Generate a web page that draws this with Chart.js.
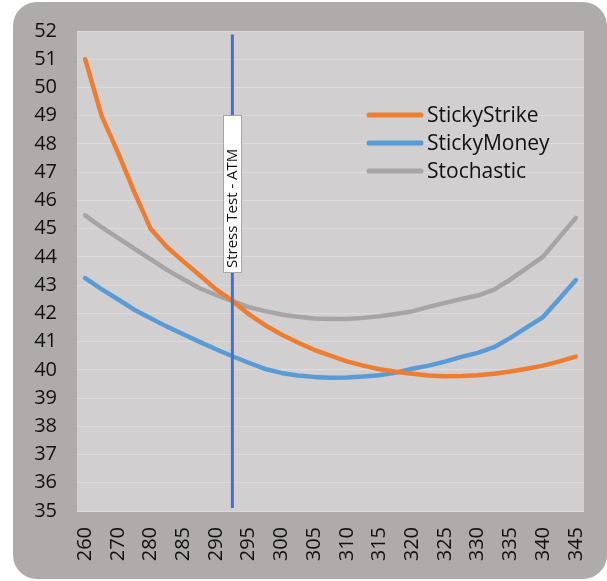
<!DOCTYPE html>
<html>
<head>
<meta charset="utf-8">
<script src="https://cdn.jsdelivr.net/npm/chart.js@4/dist/chart.umd.min.js"></script>
<style>
  html, body { margin: 0; padding: 0; background: #ffffff; }
  #wrap { width: 607px; height: 581px; position: relative; }
</style>
</head>
<body>
<div id="wrap"><canvas id="chart" width="607" height="581"></canvas></div>
<script>
// Strike grid (every other strike is labelled on the axis)
const strikes = ['260', '265', '270', '275', '280', '282.5', '285', '287.5', '290', '292.5',
  '295', '297.5', '300', '302.5', '305', '307.5', '310', '312.5', '315', '317.5',
  '320', '322.5', '325', '327.5', '330', '332.5', '335', '337.5', '340', '342.5', '345'];

// Implied volatility by model
const stickyStrike = [51.0, 49.0, 47.7, 46.3, 45.0, 44.35, 43.84, 43.35, 42.85, 42.45,
  41.97, 41.58, 41.25, 40.97, 40.71, 40.50, 40.30, 40.15, 40.02, 39.93,
  39.86, 39.80, 39.77, 39.78, 39.81, 39.86, 39.94, 40.04, 40.15, 40.30, 40.47];
const stickyMoney = [43.25, 42.86, 42.50, 42.13, 41.83, 41.53, 41.26, 40.99, 40.73, 40.48,
  40.25, 40.03, 39.89, 39.80, 39.75, 39.72, 39.73, 39.76, 39.81, 39.90,
  40.04, 40.15, 40.29, 40.46, 40.60, 40.80, 41.13, 41.50, 41.87, 42.52, 43.18];
const stochastic = [45.47, 45.05, 44.67, 44.29, 43.92, 43.54, 43.21, 42.89, 42.65, 42.43,
  42.22, 42.08, 41.96, 41.88, 41.82, 41.80, 41.80, 41.84, 41.90, 41.98,
  42.07, 42.23, 42.37, 42.51, 42.63, 42.84, 43.20, 43.60, 44.01, 44.70, 45.38];

const seriesNames = ['StickyStrike', 'StickyMoney', 'Stochastic'];
const yMin = 35, yMax = 52, yStep = 1;

// At-the-money stress marker
const stressStrike = '292.5';
const stressLabel = 'Stress Test - ATM';

const FONT = '"Open Sans", "Noto Sans", sans-serif';
const TEXT = '#111111';

const backgroundPlugin = {
  id: 'panels',
  beforeDraw(chart) {
    const ctx = chart.ctx, a = chart.chartArea;
    ctx.save();
    ctx.fillStyle = '#ffffff';
    ctx.fillRect(0, 0, chart.width, chart.height);
    ctx.fillStyle = '#afabaa';
    ctx.beginPath();
    ctx.roundRect(13, 2, 594, 577, 24);
    ctx.fill();
    ctx.fillStyle = '#d1cfd0';
    ctx.fillRect(a.left, a.top, a.right - a.left, a.bottom - a.top);
    ctx.restore();
  }
};

const overlayPlugin = {
  id: 'overlay',
  afterDatasetsDraw(chart) {
    const ctx = chart.ctx, a = chart.chartArea;
    const xs = chart.scales.x;
    const x = xs.getPixelForValue(strikes.indexOf(stressStrike));
    ctx.save();
    // vertical stress line
    ctx.strokeStyle = '#4472c4';
    ctx.lineWidth = 3;
    ctx.beginPath();
    ctx.moveTo(x, a.top + 3.5);
    ctx.lineTo(x, a.bottom - 3);
    ctx.stroke();
    // label box
    const bw = 18, bTop = 115, bBottom = 272;
    ctx.fillStyle = '#ffffff';
    ctx.fillRect(x - bw / 2, bTop, bw, bBottom - bTop);
    ctx.strokeStyle = '#a6a6a6';
    ctx.lineWidth = 1;
    ctx.strokeRect(Math.round(x - bw / 2) + 0.5, bTop + 0.5, bw, bBottom - bTop);
    ctx.translate(x + 0.5, bBottom - 4);
    ctx.rotate(-Math.PI / 2);
    ctx.fillStyle = TEXT;
    ctx.font = '15px ' + FONT;
    ctx.textAlign = 'left';
    ctx.textBaseline = 'middle';
    ctx.fillText(stressLabel, 0, 0);
    ctx.restore();

    // legend inside the plot
    ctx.save();
    ctx.font = '21px ' + FONT;
    ctx.textBaseline = 'middle';
    ctx.textAlign = 'left';
    chart.data.datasets.forEach((ds, i) => {
      const y = 115 + i * 28;
      ctx.strokeStyle = ds.borderColor;
      ctx.lineWidth = 5;
      ctx.lineCap = 'round';
      ctx.beginPath();
      ctx.moveTo(369, y);
      ctx.lineTo(421, y);
      ctx.stroke();
      ctx.fillStyle = TEXT;
      ctx.fillText(ds.label, 427, y + 1);
    });
    ctx.restore();
  }
};

const lineStyle = (color) => ({
  borderColor: color,
  backgroundColor: color,
  borderWidth: 4.5,
  pointRadius: 0,
  pointHoverRadius: 0,
  tension: 0,
  fill: false,
  borderCapStyle: 'round',
  borderJoinStyle: 'round'
});

new Chart(document.getElementById('chart'), {
  type: 'line',
  data: {
    labels: strikes,
    datasets: [
      { label: seriesNames[0], data: stickyStrike, ...lineStyle('#ed7d31') },
      { label: seriesNames[1], data: stickyMoney, ...lineStyle('#5b9bd5') },
      { label: seriesNames[2], data: stochastic, ...lineStyle('#a5a5a5') }
    ]
  },
  options: {
    responsive: false,
    animation: false,
    devicePixelRatio: 1,
    layout: { padding: { left: 0, right: 23, top: 31, bottom: 0 } },
    plugins: { legend: { display: false }, tooltip: { enabled: false } },
    scales: {
      x: {
        type: 'category',
        offset: true,
        grid: { display: false, drawTicks: false },
        border: { display: false },
        ticks: {
          autoSkip: false,
          minRotation: 90,
          maxRotation: 90,
          padding: 16,
          color: TEXT,
          font: { family: FONT, size: 20 },
          callback: (v, i) => (i % 2 === 0 ? strikes[i] : '')
        },
        afterFit: (s) => { s.height = 70; s.paddingLeft = 0; s.paddingRight = 0; }
      },
      y: {
        min: yMin,
        max: yMax,
        grid: { color: '#dcdadb', lineWidth: 1, drawTicks: false },
        border: { display: false },
        ticks: {
          stepSize: yStep,
          padding: 20,
          color: TEXT,
          font: { family: FONT, size: 20 }
        },
        afterFit: (s) => { s.width = 77; s.paddingTop = 0; s.paddingBottom = 0; }
      }
    }
  },
  plugins: [backgroundPlugin, overlayPlugin]
});
</script>
</body>
</html>
